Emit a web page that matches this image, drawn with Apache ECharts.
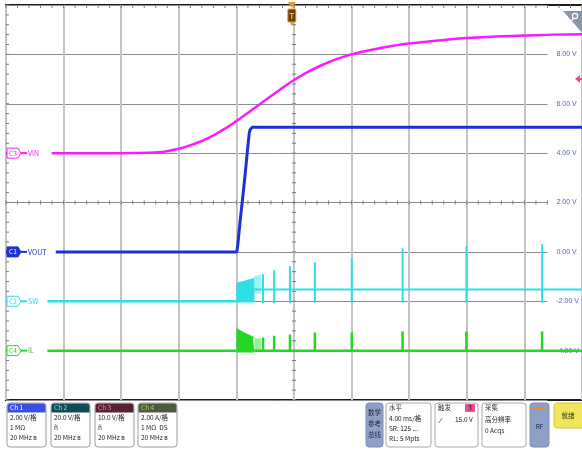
<!DOCTYPE html>
<html>
<head>
<meta charset="utf-8">
<script src="https://cdn.jsdelivr.net/npm/echarts@6/dist/echarts.min.js"></script>
<style>
html, body { margin: 0; padding: 0; background: #fff; }
#scope { width: 582px; height: 451px; }
</style>
</head>
<body>
<div id="scope"></div>
<script>
// Horizontal: 4 ms per division, 10 divisions, trigger at the centre
const timeMin = -20;
const timeMax = 20;
const timeStep = 4;

// Right-hand scale labels (Ch1, 2 V/div)
const voltTicks = [-6, -4, -2, 0, 2, 4, 6, 8, 10];

// Ch3 VIN (V)
const vinTime  = [-20, -12, -10, -9, -8, -7, -6, -5, -4, -3, -2, -1, 0, 1, 2, 3, 4, 5, 6, 7, 8, 10, 12, 14, 16, 18, 20];
const vinVolts = [0, 0, 0.1, 0.3, 0.9, 1.8, 3.0, 4.6, 6.5, 8.6, 10.7, 12.8, 14.8, 16.5, 17.9, 19.1, 20.0, 20.7, 21.3, 21.8, 22.2, 22.8, 23.3, 23.6, 23.8, 24.0, 24.1];

// Ch1 VOUT (V)
const voutTime  = [-20, -3.97, -3.9, -3.75, -3.58, -3.4, -3.2, -3.11, -3.05, -2.98, -2.9, 20];
const voutVolts = [0, 0, 0.3, 1.2, 2.1, 3.1, 4.3, 4.8, 4.95, 5.02, 5.05, 5.05];

// Ch2 SW (V): switching burst envelope, then idle level with isolated pulses
const swStart = -4.0;
const swBurstTime = [-4.0, -3.5, -3.0, -2.75];
const swBurstHigh = [7.3, 8.0, 8.8, 9.3];
const swBurstLow = -0.5;
const swTailTime = [-2.75, -2.5, -2.3];
const swTailHigh = [10.2, 10.5, 10.8];
const swTailLow = 3.0;
const swIdle = 4.8;
const pulseTime   = [-2.15, -1.38, -0.28, 1.45, 4.01, 7.54, 11.97, 17.23];
const swPulseHigh = [10.9, 12.6, 14.2, 15.8, 17.4, 21.5, 22.3, 23.1];
const swPulseLow  = [-0.8, -0.8, -0.8, -0.6, -0.6, -0.6, -0.6, -0.6];

// Ch4 IL (A)
const ilBurstTime = [-4.0, -3.7, -3.4, -3.1, -2.85, -2.75];
const ilBurstHigh = [0.89, 0.8, 0.7, 0.62, 0.55, 0.53];
const ilBurstLow = -0.08;
const ilTailTime = [-2.75, -2.3];
const ilTailHigh = [0.5, 0.5];
const ilPulseHigh = [0.53, 0.6, 0.65, 0.73, 0.73, 0.77, 0.77, 0.77];

// Channel vertical settings: units per division and ground position (divisions from centre)
const channels = {
  ch1: { scale: 2,  ground: -1, color: '#1e32d4', tag: 'C1', name: 'VOUT', filled: true },
  ch2: { scale: 20, ground: -2, color: '#2ddfe6', tag: 'C2', name: 'SW',   filled: false },
  ch3: { scale: 10, ground: 1,  color: '#ff18ff', tag: 'C3', name: 'VIN',  filled: false },
  ch4: { scale: 2,  ground: -3, color: '#22d822', tag: 'C4', name: 'IL',   filled: false }
};
const chOrder = ['ch1', 'ch2', 'ch3', 'ch4'];

const zip = (xs, ys) => xs.map((x, i) => [x, ys[i]]);

function pulseTrain(start, idle, times, highs, lows) {
  const pts = [[start, idle]];
  times.forEach((t, i) => {
    pts.push([t, idle], [t, highs[i]], [t, lows[i]], [t, idle]);
  });
  pts.push([timeMax, idle]);
  return pts;
}

const GRID_TOP = 5, GRID_H = 395, GRID_L = 6;

function chAxis(key) {
  const c = channels[key];
  const centre = -c.ground * c.scale;
  return { type: 'value', gridIndex: 1, min: centre - 4 * c.scale, max: centre + 4 * c.scale, show: false };
}

// decorative division ticks along the centre cross and the top/left frame
const tickData = [];
for (let i = -25; i <= 25; i++) {
  const d = i / 5;
  if (d <= 4.5) tickData.push([d, 0, 0]);   // centre horizontal line
  tickData.push([d, 4, 2]);                 // top frame
}
for (let i = -20; i <= 20; i++) {
  const d = i / 5;
  tickData.push([0, d, 1]);     // centre vertical line
  tickData.push([-5, d, 3]);    // left frame
}

const lineBase = { type: 'line', xAxisIndex: 1, symbol: 'none', animation: false, silent: true };

const option = {
  animation: false,
  backgroundColor: '#ffffff',
  grid: [
    { left: GRID_L, top: GRID_TOP, width: 549, height: GRID_H, show: false },
    { left: GRID_L, top: GRID_TOP, width: 578, height: GRID_H, show: true,
      borderColor: '#1c1c1c', borderWidth: 2, backgroundColor: 'transparent' }
  ],
  xAxis: [
    { type: 'value', gridIndex: 0, min: timeMin, max: timeMax, show: false },
    { type: 'value', gridIndex: 1, min: timeMin, max: timeMax, interval: timeStep,
      axisLine: { show: false }, axisTick: { show: false }, axisLabel: { show: false },
      splitLine: { show: true, lineStyle: { color: '#c4c4c4', width: 2 } } },
    { type: 'value', gridIndex: 1, min: -5, max: 5, show: false }
  ],
  yAxis: [
    { type: 'value', gridIndex: 0, position: 'right', min: voltTicks[0], max: voltTicks[voltTicks.length - 1], interval: 2,
      axisLine: { show: false }, axisTick: { show: false },
      splitLine: { show: true, lineStyle: { color: '#8c8c8c', width: 1 } },
      axisLabel: { margin: 9, color: '#4f62d8', fontSize: 7, fontFamily: 'Liberation Sans Narrow, Liberation Sans, sans-serif',
        formatter: v => (v === voltTicks[0] || v === voltTicks[voltTicks.length - 1]) ? '' : v.toFixed(2) + ' V' } },
    { type: 'value', gridIndex: 1, min: -4, max: 4, show: false },
    chAxis('ch1'), chAxis('ch2'), chAxis('ch3'), chAxis('ch4')
  ],
  series: [
    {
      type: 'custom', xAxisIndex: 2, yAxisIndex: 1, silent: true, z: 1,
      data: tickData,
      renderItem: (params, api) => {
        const p = api.coord([api.value(0), api.value(1)]);
        const kind = api.value(2);
        let shape;
        if (kind === 0) shape = { x1: p[0], y1: p[1] - 2, x2: p[0], y2: p[1] + 2 };
        else if (kind === 1) shape = { x1: p[0] - 2, y1: p[1], x2: p[0] + 2, y2: p[1] };
        else if (kind === 2) shape = { x1: p[0], y1: p[1], x2: p[0], y2: p[1] + 3 };
        else shape = { x1: p[0], y1: p[1], x2: p[0] + 3, y2: p[1] };
        return { type: 'line', shape, style: { stroke: '#7a7a7a', lineWidth: 1 } };
      }
    },
    // Ch4 IL
    Object.assign({}, lineBase, { yAxisIndex: 5, z: 3, data: [[timeMin, 0], [swStart, 0]],
      lineStyle: { color: channels.ch4.color, width: 2.5 } }),
    Object.assign({}, lineBase, { yAxisIndex: 5, z: 3, data: zip(ilBurstTime, ilBurstHigh),
      lineStyle: { color: channels.ch4.color, width: 1 },
      areaStyle: { color: channels.ch4.color, opacity: 1, origin: ilBurstLow } }),
    Object.assign({}, lineBase, { yAxisIndex: 5, z: 3, data: zip(ilTailTime, ilTailHigh),
      lineStyle: { width: 0 },
      areaStyle: { color: channels.ch4.color, opacity: 0.45, origin: 0 } }),
    Object.assign({}, lineBase, { yAxisIndex: 5, z: 3,
      data: pulseTrain(ilTailTime[0], 0, pulseTime, ilPulseHigh, pulseTime.map(() => 0)),
      lineStyle: { color: channels.ch4.color, width: 2.5 } }),
    // Ch2 SW
    Object.assign({}, lineBase, { yAxisIndex: 3, z: 4, data: [[timeMin, 0], [swStart, 0]],
      lineStyle: { color: channels.ch2.color, width: 2.5 } }),
    Object.assign({}, lineBase, { yAxisIndex: 3, z: 4, data: zip(swBurstTime, swBurstHigh),
      lineStyle: { color: channels.ch2.color, width: 1 },
      areaStyle: { color: channels.ch2.color, opacity: 1, origin: swBurstLow } }),
    Object.assign({}, lineBase, { yAxisIndex: 3, z: 4, data: zip(swTailTime, swTailHigh),
      lineStyle: { width: 0 },
      areaStyle: { color: channels.ch2.color, opacity: 0.45, origin: swTailLow } }),
    Object.assign({}, lineBase, { yAxisIndex: 3, z: 4,
      data: pulseTrain(swTailTime[0], swIdle, pulseTime, swPulseHigh, swPulseLow),
      lineStyle: { color: channels.ch2.color, width: 2 } }),
    // Ch1 VOUT
    Object.assign({}, lineBase, { yAxisIndex: 2, z: 5, data: zip(voutTime, voutVolts),
      lineStyle: { color: channels.ch1.color, width: 3 } }),
    // Ch3 VIN
    Object.assign({}, lineBase, { yAxisIndex: 4, z: 6, smooth: 0.5, data: zip(vinTime, vinVolts),
      lineStyle: { color: channels.ch3.color, width: 2.5 } })
  ]
};

const chart = echarts.init(document.getElementById('scope'), null, { renderer: 'canvas' });
chart.setOption(option);

// ---- overlay: channel tags, trigger markers, status bar ----
const FONT = '"Noto Sans CJK SC", "Liberation Sans Narrow", sans-serif';
const g = [];

chOrder.forEach((key, i) => {
  const c = channels[key];
  const y = chart.convertToPixel({ xAxisIndex: 1, yAxisIndex: 2 + i }, [timeMin, 0])[1];
  const x0 = 7;
  const labelW = c.name.length * 4.2 + 10;
  g.push({ type: 'rect', shape: { x: x0, y: y - 6, width: 22 + labelW, height: 12 },
    style: { fill: '#fff' }, z: 100 });
  g.push({ type: 'polygon', z: 101,
    shape: { points: [[x0, y - 5], [x0 + 11, y - 5], [x0 + 14, y], [x0 + 11, y + 5], [x0, y + 5]] },
    style: { fill: c.filled ? c.color : '#fff', stroke: c.color, lineWidth: 1 } });
  g.push({ type: 'text', z: 102, x: x0 + 6, y: y,
    style: { text: c.tag, fill: c.filled ? '#fff' : c.color, fontSize: 6.5, fontFamily: FONT,
      align: 'center', verticalAlign: 'middle' } });
  g.push({ type: 'line', z: 101, shape: { x1: x0 + 14, y1: y, x2: x0 + 20, y2: y },
    style: { stroke: c.color, lineWidth: 2 } });
  g.push({ type: 'text', z: 102, x: x0 + 21, y: y,
    style: { text: c.name, fill: c.color, fontSize: 7, fontFamily: FONT, verticalAlign: 'middle' } });
});

// trigger position marker
const tx = chart.convertToPixel({ xAxisIndex: 1 }, -0.15);
g.push({ type: 'polygon', z: 110, shape: { points: [[tx - 4, 2], [tx + 4, 2], [tx, 8]] }, style: { fill: '#f0962a' } });
g.push({ type: 'rect', z: 110, shape: { x: tx - 4, y: 9, width: 8, height: 13, r: 1 },
  style: { fill: '#6b3f0c', stroke: '#f0962a', lineWidth: 1 } });
g.push({ type: 'text', z: 111, x: tx, y: 15.5,
  style: { text: 'T', fill: '#f6b04a', fontSize: 8, fontWeight: 'bold', fontFamily: FONT, align: 'center', verticalAlign: 'middle' } });
g.push({ type: 'polygon', z: 110, shape: { points: [[tx - 2, 22], [tx + 2, 22], [tx, 26]] }, style: { fill: '#f0962a' } });

// trigger level marker (Ch3, 15 V)
const ty = chart.convertToPixel({ xAxisIndex: 1, yAxisIndex: 4 }, [0, 15])[1];
g.push({ type: 'polygon', z: 110,
  shape: { points: [[575, ty], [580, ty - 4], [580, ty - 1], [583, ty - 1], [583, ty + 1], [580, ty + 1], [580, ty + 4]] },
  style: { fill: '#e2508e' } });

// zoom badge top right
g.push({ type: 'polygon', z: 110, shape: { points: [[563, 11], [583, 11], [583, 34]] }, style: { fill: '#8b95a9' } });
g.push({ type: 'circle', z: 111, shape: { cx: 575, cy: 16, r: 2.6 }, style: { fill: 'none', stroke: '#fff', lineWidth: 1.2 } });
g.push({ type: 'line', z: 111, shape: { x1: 573.5, y1: 18, x2: 571, y2: 22 }, style: { stroke: '#fff', lineWidth: 1.4 } });

// status bar
function box(x, w, y, h, fill, stroke) {
  g.push({ type: 'rect', z: 110, shape: { x, y, width: w, height: h, r: 3 },
    style: { fill, stroke, lineWidth: 1 } });
}
function txt(x, y, s, color, size, align) {
  g.push({ type: 'text', z: 112, x, y,
    style: { text: s, fill: color || '#222', fontSize: size || 6.5, fontFamily: FONT,
      align: align || 'left', verticalAlign: 'middle' } });
}

const chanBoxes = [
  { x: 7,   head: '#3c4ee2', headText: '#ffffff', title: 'Ch 1', rows: ['2.00 V/格', '1 MΩ', '20 MHz ʙ'] },
  { x: 51,  head: '#0f4b56', headText: '#7fe3ea', title: 'Ch 2', rows: ['20.0 V/格', 'ñ', '20 MHz ʙ'] },
  { x: 95,  head: '#5b1f36', headText: '#f08ab8', title: 'Ch 3', rows: ['10.0 V/格', 'ñ', '20 MHz ʙ'] },
  { x: 138, head: '#4e5a40', headText: '#b6d65a', title: 'Ch 4', rows: ['2.00 A/格', '1 MΩ  DS', '20 MHz ʙ'] }
];
chanBoxes.forEach(b => {
  box(b.x, 39, 403, 44, '#ffffff', '#9c9c9c');
  g.push({ type: 'rect', z: 111, shape: { x: b.x + 0.5, y: 403.5, width: 38, height: 9, r: [3, 3, 0, 0] },
    style: { fill: b.head } });
  txt(b.x + 3, 408, b.title, b.headText, 6.5);
  b.rows.forEach((r, i) => txt(b.x + 3, 418 + i * 10, r, '#222', 6.5));
});

// math / ref / bus
box(366, 17, 403, 44, '#8fa0c8', '#7c8db6');
['数学', '参考', '总线'].forEach((s, i) => txt(374.5, 413 + i * 11, s, '#1d2440', 6.5, 'center'));

// horizontal
box(386, 45, 403, 44, '#ffffff', '#a8a8a8');
txt(389, 408, '水平', '#333', 6.5);
txt(389, 419, '4.00 ms/格', '#222', 6.5);
txt(389, 429, 'SR: 125 ...', '#222', 6.5);
txt(389, 439, 'RL: 5 Mpts', '#222', 6.5);

// trigger
box(435, 43, 403, 44, '#ffffff', '#a8a8a8');
txt(438, 408, '触发', '#333', 6.5);
g.push({ type: 'rect', z: 111, shape: { x: 465, y: 404, width: 10, height: 8, r: 1 }, style: { fill: '#e2508e' } });
txt(470, 408, '3', '#3a0d1f', 6.5, 'center');
txt(440, 420, '⁄', '#222', 8);
txt(455, 420, '15.0 V', '#222', 6.5);

// acquisition
box(482, 44, 403, 44, '#ffffff', '#a8a8a8');
txt(485, 408, '采集', '#333', 6.5);
txt(485, 420, '高分辨率', '#222', 6.5);
txt(485, 431, '0 Acqs', '#222', 6.5);

// RF
box(530, 19, 403, 44, '#8fa0c8', '#7c8db6');
g.push({ type: 'line', z: 112, shape: { x1: 533, y1: 408, x2: 546, y2: 408 }, style: { stroke: '#e8892a', lineWidth: 2 } });
txt(539.5, 427, 'RF', '#1d2440', 6.5, 'center');

// run state
box(554, 32, 403, 25, '#f2e45c', '#d6c646');
txt(568, 415.5, '就绪', '#3a3420', 6.5, 'center');

chart.setOption({ graphic: { elements: g } });
</script>
</body>
</html>
